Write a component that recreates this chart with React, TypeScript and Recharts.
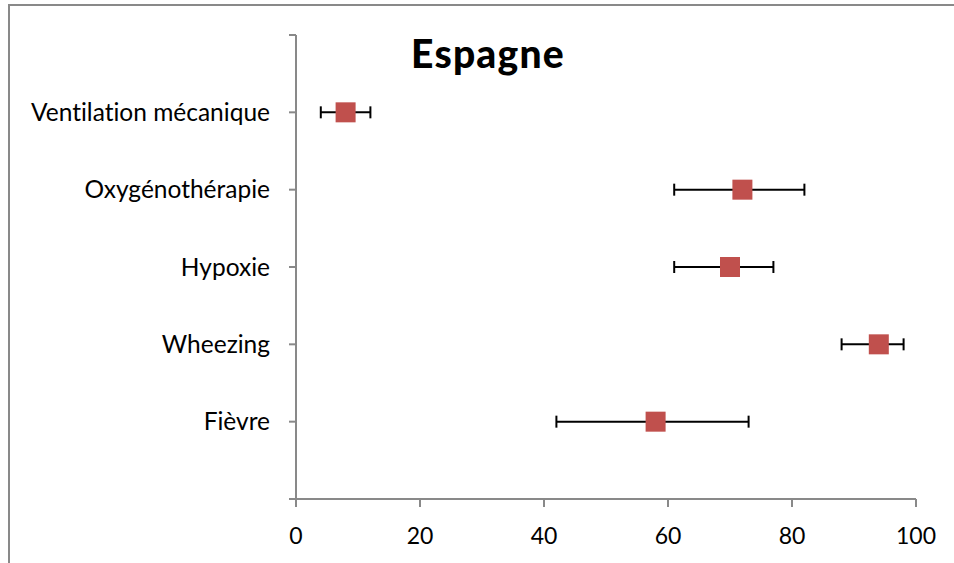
import React from 'react';
import {
  ScatterChart,
  Scatter,
  XAxis,
  YAxis,
  ZAxis,
  ErrorBar,
} from 'recharts';

const categories = ['Fièvre', 'Wheezing', 'Hypoxie', 'Oxygénothérapie', 'Ventilation mécanique'];
const values = [58, 94, 70, 72, 8];
const lows = [42, 88, 61, 61, 4];
const highs = [73, 98, 77, 82, 12];
const xTicks = [0, 20, 40, 60, 80, 100];

const data = categories.map((name, i) => ({
  name,
  y: i + 1,
  x: values[i],
  err: [values[i] - lows[i], highs[i] - values[i]],
}));

const FONT = 'Lato, "Open Sans", sans-serif';
const AXIS_COLOR = '#898989';

const formatCategory = (v: number): string => categories[v - 1] ?? '';

const SquareMarker = (props: any) => {
  const { cx, cy } = props;
  return <rect x={cx - 10} y={cy - 10} width={20} height={20} fill="#C0504D" />;
};

const App: React.FC = () => {
  return (
    <div
      style={{
        position: 'absolute',
        left: 0,
        top: 0,
        width: 954,
        height: 563,
        overflow: 'hidden',
        background: '#fff',
        fontFamily: FONT,
        fontVariantLigatures: 'none',
      }}
    >
      <div
        style={{
          position: 'absolute',
          left: 8,
          top: 4,
          width: 1000,
          height: 600,
          border: `2px solid ${AXIS_COLOR}`,
        }}
      />
      <div style={{ position: 'absolute', left: 0, top: 0 }}>
        <ScatterChart width={954} height={563} margin={{ top: 35, right: 38, left: 0, bottom: 0 }}>
          <text
            x={488}
            y={68}
            textAnchor="middle"
            fontFamily={FONT}
            fontWeight={900}
            fontSize={39}
            letterSpacing={1.2}
            fill="#000"
          >
            Espagne
          </text>
          <XAxis
            type="number"
            dataKey="x"
            domain={[0, 100]}
            ticks={xTicks}
            interval={0}
            height={64}
            stroke={AXIS_COLOR}
            strokeWidth={2}
            tickSize={8}
            tickMargin={21}
            tick={{ fill: '#000', fontSize: 23, fontFamily: FONT }}
          />
          <YAxis
            type="number"
            dataKey="y"
            domain={[0, 6]}
            ticks={[0, 1, 2, 3, 4, 5, 6]}
            interval={0}
            width={296}
            stroke={AXIS_COLOR}
            strokeWidth={2}
            tickSize={7}
            tickMargin={19}
            tickFormatter={formatCategory}
            tick={{ fill: '#000', fontSize: 24.5, fontFamily: FONT }}
          />
          <ZAxis range={[400, 400]} />
          <Scatter data={data} shape={<SquareMarker />} isAnimationActive={false}>
            <ErrorBar dataKey="err" direction="x" width={6} stroke="#000" strokeWidth={2} />
          </Scatter>
        </ScatterChart>
      </div>
    </div>
  );
};

export default App;
